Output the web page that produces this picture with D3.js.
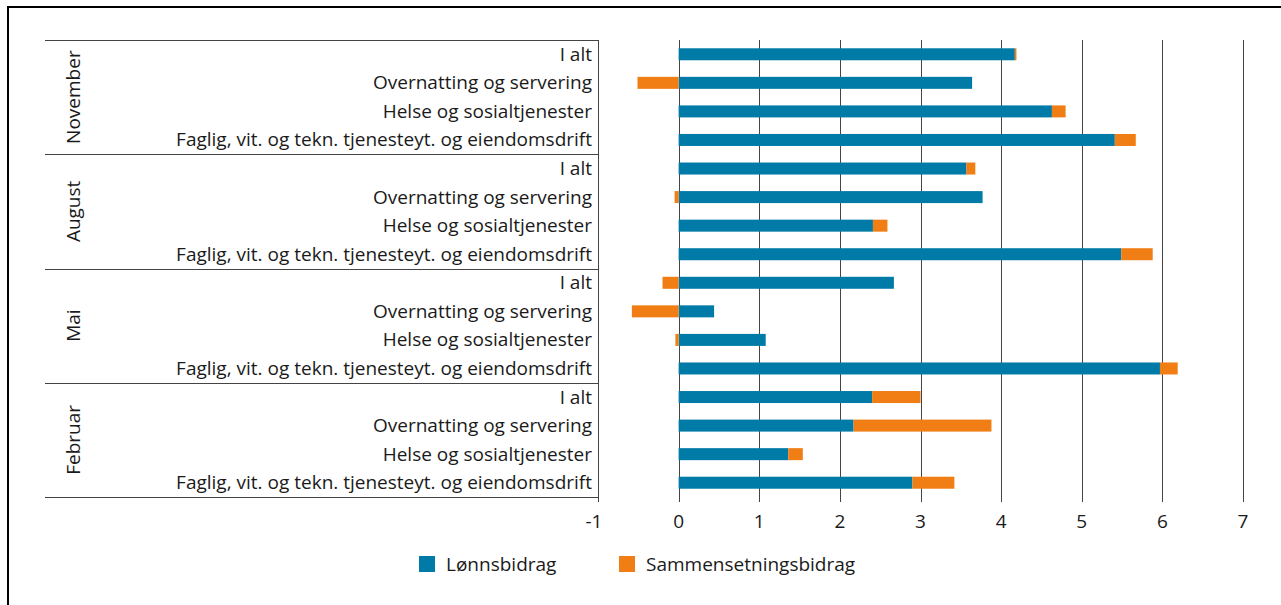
<!DOCTYPE html>
<html>
<head>
<meta charset="utf-8">
<script src="https://cdn.jsdelivr.net/npm/d3@7"></script>
<style>
  body { margin: 0; background: #fff; }
  svg { display: block; font-family: "Open Sans", Lato, sans-serif; }
  .lbl { font-size: 19px; fill: #1a1a1a; }
</style>
</head>
<body>
<script>
// months top-down, industries within each month
const months = ['November', 'August', 'Mai', 'Februar'];
const industries = [
  'I alt',
  'Overnatting og servering',
  'Helse og sosialtjenester',
  'Faglig, vit. og tekn. tjenesteyt. og eiendomsdrift'
];
const seriesNames = ['Lønnsbidrag', 'Sammensetningsbidrag'];

// values per month in the industry order above
const lonn = [
  [4.17, 3.64, 4.63, 5.41],   // November
  [3.57, 3.77, 2.41, 5.49],   // August
  [2.67, 0.44, 1.08, 5.97],   // Mai
  [2.40, 2.17, 1.36, 2.90]    // Februar
];
const sammen = [
  [0.02, -0.51, 0.17, 0.26],
  [0.11, -0.05, 0.18, 0.39],
  [-0.20, -0.58, -0.04, 0.22],
  [0.60, 1.71, 0.18, 0.52]
];
const xTicks = [-1, 0, 1, 2, 3, 4, 5, 6, 7];

const width = 1281, height = 605;
const colors = ['#007ba7', '#f07e14'];

const rows = [];
months.forEach((m, i) => industries.forEach((ind, j) => {
  rows.push({id: m + '|' + ind, month: m, industry: ind, l: lonn[i][j], s: sammen[i][j]});
}));

const svg = d3.select('body').append('svg')
  .attr('width', width).attr('height', height);

// frame, top and left only
svg.append('path')
  .attr('d', `M8,${height} V7 H${width}`)
  .attr('fill', 'none').attr('stroke', '#000').attr('stroke-width', 2);

const x = d3.scaleLinear().domain([-1, 7]).range([598, 1243]);
const y = d3.scaleBand().domain(rows.map(d => d.id)).range([40, 497])
  .paddingInner(0.58).paddingOuter(0.29);

// grid
svg.append('g').selectAll('line')
  .data(xTicks.filter(t => t >= 0))
  .join('line')
  .attr('x1', d => Math.round(x(d)) + 0.5).attr('x2', d => Math.round(x(d)) + 0.5)
  .attr('y1', 40).attr('y2', 502)
  .attr('stroke', '#444');

// stacked bars (diverging)
const stack = d3.stack().keys(['l', 's']).offset(d3.stackOffsetDiverging);
const layers = stack(rows);
svg.append('g').selectAll('g')
  .data(layers)
  .join('g')
  .attr('fill', (d, i) => colors[i])
  .selectAll('rect')
  .data(d => d)
  .join('rect')
  .attr('x', d => x(Math.min(d[0], d[1])))
  .attr('width', d => Math.abs(x(d[1]) - x(d[0])))
  .attr('y', d => y(d.data.id))
  .attr('height', y.bandwidth());

// left label box
const groupEdges = months.map(m => y(m + '|' + industries[0]) - (y.step() - y.bandwidth()) / 2);
groupEdges.push(497);
svg.append('g').selectAll('line')
  .data(groupEdges)
  .join('line')
  .attr('x1', 45).attr('x2', 598)
  .attr('y1', d => Math.round(d) + 0.5).attr('y2', d => Math.round(d) + 0.5)
  .attr('stroke', '#444');
svg.append('line')
  .attr('x1', 598.5).attr('x2', 598.5).attr('y1', 40).attr('y2', 502)
  .attr('stroke', '#444');

// category labels
svg.append('g').selectAll('text')
  .data(rows)
  .join('text')
  .attr('class', 'lbl')
  .attr('x', 592)
  .attr('y', d => y(d.id) + y.bandwidth() / 2 + 6.5)
  .attr('text-anchor', 'end')
  .text(d => d.industry);

// month labels
svg.append('g').selectAll('text')
  .data(months)
  .join('text')
  .attr('class', 'lbl')
  .attr('transform', (d, i) => `translate(80,${(groupEdges[i] + groupEdges[i + 1]) / 2}) rotate(-90)`)
  .attr('text-anchor', 'middle')
  .text(d => d);

// x tick labels
svg.append('g').selectAll('text')
  .data(xTicks)
  .join('text')
  .attr('class', 'lbl')
  .attr('x', d => x(d) - (d < 0 ? 4 : 0))
  .attr('y', 528)
  .attr('text-anchor', 'middle')
  .text(d => d);

// legend
const legX = [419, 619];
const leg = svg.append('g').selectAll('g')
  .data(seriesNames)
  .join('g')
  .attr('transform', (d, i) => `translate(${legX[i]},556)`);
leg.append('rect').attr('width', 16).attr('height', 16).attr('fill', (d, i) => colors[i]);
leg.append('text').attr('class', 'lbl').attr('x', 27).attr('y', 14.5).text(d => d);
</script>
</body>
</html>
